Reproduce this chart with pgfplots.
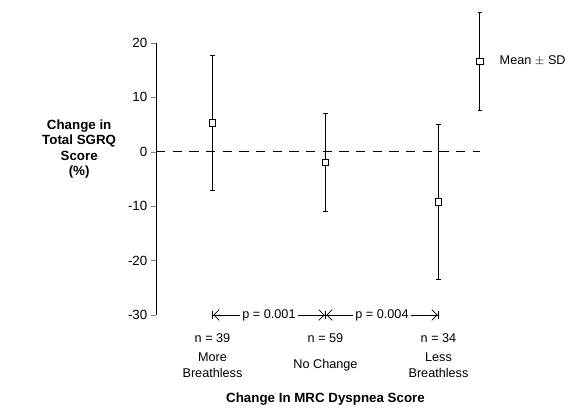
\documentclass[border=0pt]{standalone}
\usepackage{fontspec}
\setmainfont{Liberation Sans}
\usepackage{pgfplots}
\pgfplotsset{compat=1.18}
\usetikzlibrary{arrows.meta}

\begin{document}
\begin{tikzpicture}[font=\fontsize{9.5}{11}\selectfont]
  % page frame: 576x409 px at 0.75pt per px, axis box at south west = (0,0)
  \useasboundingbox (-117pt,-70.5pt) rectangle (315pt,236.25pt);
  \begin{axis}[
    at={(0,0)}, anchor=south west,
    scale only axis,
    width=254.25pt, height=204pt,
    xmin=0.5, xmax=3.5,
    ymin=-30, ymax=20,
    axis x line=none,
    axis y line*=left,
    ytick={-30,-20,-10,0,10,20},
    tick align=outside,
    major tick length=4pt,
    yticklabel style={font=\fontsize{10}{11}\selectfont, xshift=1pt},
    /pgf/number format/assume math mode=true,
    clip=false,
    every axis plot/.append style={line width=0.7pt, black},
    meansd/.style={only marks, mark=square*, mark size=2.4pt,
      mark options={fill=white, line width=0.6pt},
      error bars/.cd, y dir=both, y explicit, error mark=|,
      error bar style={line width=0.7pt},
      error mark options={line width=0.7pt, mark size=1.7pt}},
  ]
    % zero reference line
    \addplot[dashed, dash pattern=on 7pt off 5.5pt, line width=0.6pt] coordinates {(0.5,0) (3.37,0)};

    % means +- SD
    \addplot[meansd] coordinates {
        (1, 5.3) +- (0,12.4)
        (2,-2.0) +- (0,9.0)
        (3,-9.2) +- (0,14.3)
      };

    % legend sample
    \addplot[meansd] coordinates {(3.367,16.6) +- (0,9.0)};
    \node[anchor=west] at (axis cs:3.5,16.7) {Mean $\pm$ SD};

    % p-value brackets
    \draw[line width=0.6pt, {Bar[width=6pt]Straight Barb[length=4pt]}-{Straight Barb[length=4pt]Bar[width=6pt]}]
      (axis cs:1,-30) -- node[fill=white, inner sep=1.5pt] {p = 0.001} (axis cs:2,-30);
    \draw[line width=0.6pt, {Bar[width=6pt]Straight Barb[length=4pt]}-{Straight Barb[length=4pt]Bar[width=6pt]}]
      (axis cs:2,-30) -- node[fill=white, inner sep=1.5pt] {p = 0.004} (axis cs:3,-30);

    % group labels
    \node at (axis cs:1,-34.2) {n = 39};
    \node at (axis cs:2,-34.2) {n = 59};
    \node at (axis cs:3,-34.2) {n = 34};
    \node[align=center, font=\fontsize{9.5}{11.5}\selectfont] at (axis cs:1,-39.2) {More\\Breathless};
    \node at (axis cs:2,-39.2) {No Change};
    \node[align=center, font=\fontsize{9.5}{11.5}\selectfont] at (axis cs:3,-39.2) {Less\\Breathless};

    % axis titles
    \node[font=\bfseries\fontsize{10}{11.3}\selectfont] at (axis cs:2,-45.4) {Change In MRC Dyspnea Score};
    \node[align=center, font=\bfseries\fontsize{10}{11.3}\selectfont] at (axis cs:-0.18,0.5)
      {Change in\\Total SGRQ\\Score\\(\%)};
  \end{axis}
\end{tikzpicture}
\end{document}
